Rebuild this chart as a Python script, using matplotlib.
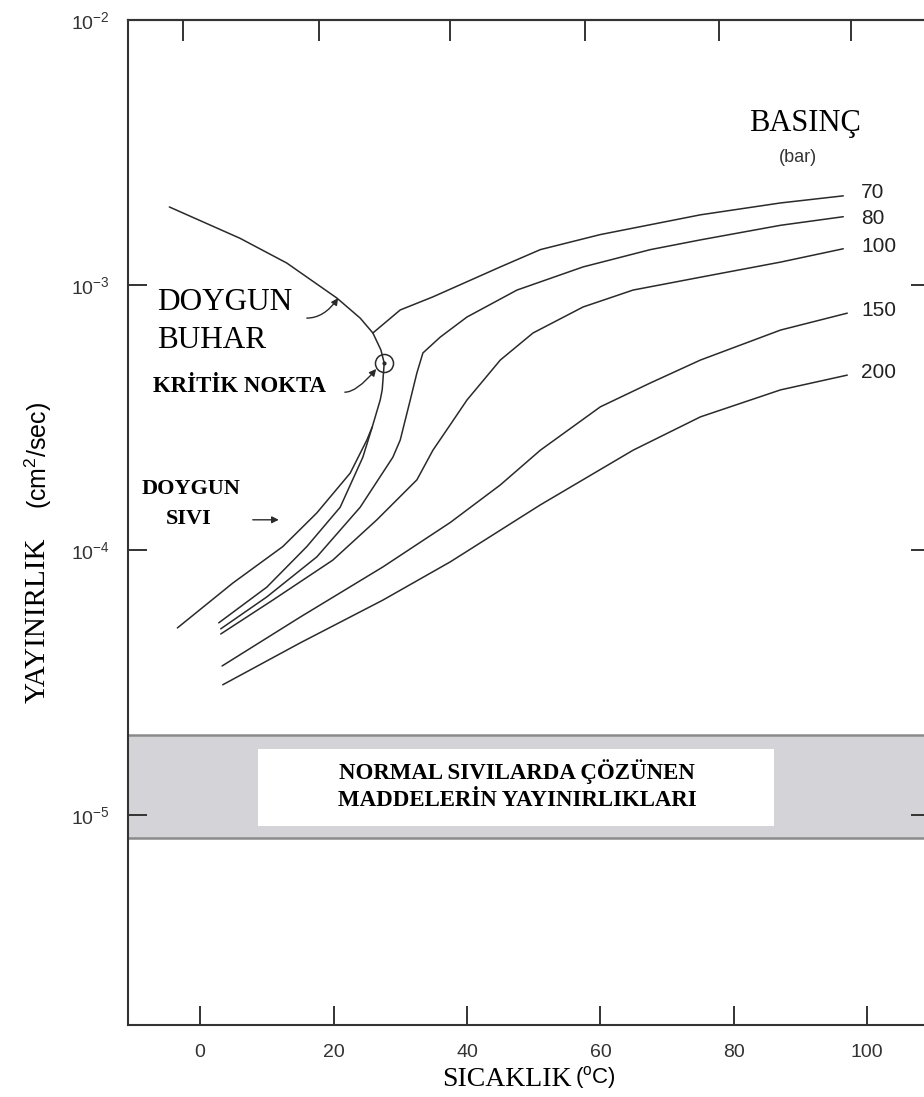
import numpy as np
import matplotlib
matplotlib.use("Agg")
import matplotlib.pyplot as plt

# ---------------- data ----------------
sat_vapor_T = [-4.6, 6.0, 13.0, 20.5, 24.0, 25.9, 27.1, 27.6]
sat_vapor_D = [1.97e-3, 1.50e-3, 1.21e-3, 8.93e-4, 7.50e-4, 6.59e-4, 5.69e-4, 5.08e-4]

sat_liquid_T = [27.6, 27.3, 27.0, 25.8, 25.0, 22.5, 17.5, 12.4, 4.9, -3.4]
sat_liquid_D = [5.08e-4, 4.02e-4, 3.68e-4, 2.91e-4, 2.60e-4, 1.95e-4, 1.38e-4, 1.03e-4, 7.50e-5, 5.08e-5]

p70_liq_T = [2.8, 10.0, 16.0, 21.0, 24.4, 25.8]
p70_liq_D = [5.31e-5, 7.24e-5, 1.03e-4, 1.45e-4, 2.24e-4, 2.91e-4]
p70_vap_T = [25.9, 30.0, 34.9, 45.0, 51.0, 60.0, 75.0, 87.0, 96.4]
p70_vap_D = [6.59e-4, 8.05e-4, 9.02e-4, 1.17e-3, 1.36e-3, 1.55e-3, 1.84e-3, 2.04e-3, 2.17e-3]

p80_T = [3.1, 10.0, 17.5, 24.0, 28.9, 30.0, 31.5, 32.5, 33.4, 36.0, 40.0, 47.5, 57.4, 67.5, 75.0, 87.0, 96.4]
p80_D = [5.04e-5, 6.65e-5, 9.42e-5, 1.45e-4, 2.24e-4, 2.60e-4, 3.68e-4, 4.66e-4, 5.54e-4, 6.36e-4,
         7.57e-4, 9.57e-4, 1.17e-3, 1.36e-3, 1.48e-3, 1.68e-3, 1.81e-3]

p100_T = [3.1, 10.9, 19.9, 26.5, 32.5, 34.9, 37.5, 40.0, 45.0, 49.9, 57.4, 64.9, 75.0, 87.0, 96.4]
p100_D = [4.82e-5, 6.47e-5, 9.16e-5, 1.30e-4, 1.84e-4, 2.38e-4, 2.97e-4, 3.68e-4, 5.21e-4, 6.59e-4,
          8.26e-4, 9.57e-4, 1.07e-3, 1.22e-3, 1.37e-3]

p150_T = [3.3, 15.0, 27.4, 37.5, 45.0, 51.0, 60.0, 67.5, 75.0, 87.0, 97.0]
p150_D = [3.65e-5, 5.58e-5, 8.63e-5, 1.27e-4, 1.76e-4, 2.38e-4, 3.47e-4, 4.27e-4, 5.21e-4, 6.76e-4, 7.83e-4]

p200_T = [3.4, 15.0, 27.4, 37.5, 51.0, 64.9, 75.0, 87.0, 97.0]
p200_D = [3.10e-5, 4.46e-5, 6.47e-5, 9.02e-5, 1.48e-4, 2.38e-4, 3.18e-4, 4.02e-4, 4.57e-4]

critical_T = [27.6]
critical_D = [5.08e-4]

band_D = [8.2e-6, 2.0e-5]          # normal liquids band
box_T = [8.7, 86.0]                # white label box
box_D = [9.1e-6, 1.78e-5]

pressure_labels = ["70", "80", "100", "150", "200"]
x_ticks = [0, 20, 40, 60, 80, 100]
x_ticks_top = [-2.5, 17.8, 37.4, 57.7, 77.8, 97.6]
y_ticks = [1e-2, 1e-3, 1e-4, 1e-5]
y_tick_labels = [r"$\mathregular{10^{-2}}$", r"$\mathregular{10^{-3}}$",
                 r"$\mathregular{10^{-4}}$", r"$\mathregular{10^{-5}}$"]

# ---------------- figure ----------------
W, H = 924, 1097
fig = plt.figure(figsize=(W / 100, H / 100), dpi=100)
L, R, T, B = 128, 930, 20, 1025
ax = fig.add_axes([L / W, 1 - B / H, (R - L) / W, (B - T) / H])
ax.set_yscale("log")
ax.set_xlim(-10.8, 109.4)
ax.set_ylim(10 ** -5.7925, 1e-2)

SERIF = ["Liberation Serif", "DejaVu Serif"]
SANS = ["Liberation Sans", "DejaVu Sans"]
LC = "#2a2a2a"
LW = 1.1

def px(x, y):
    return x / W, 1 - y / H

# band
ax.axhspan(band_D[0], band_D[1], facecolor="#d4d4d8", edgecolor="none", zorder=0)
ax.axhline(band_D[0], color="#8a8a8a", lw=1.8, zorder=1)
ax.axhline(band_D[1], color="#8a8a8a", lw=1.8, zorder=1)
ax.fill_between(box_T, box_D[0], box_D[1], facecolor="white", edgecolor="none", zorder=1)

# curves
for xs, ys in [(sat_vapor_T, sat_vapor_D), (sat_liquid_T, sat_liquid_D),
               (p70_liq_T, p70_liq_D), (p70_vap_T, p70_vap_D),
               (p80_T, p80_D), (p100_T, p100_D), (p150_T, p150_D), (p200_T, p200_D)]:
    ax.plot(xs, ys, color=LC, lw=LW, zorder=3, solid_capstyle="round", solid_joinstyle="round")

ax.plot(critical_T, critical_D, "o", ms=13, mfc="none", mec=LC, mew=1.1, zorder=4)
ax.plot(critical_T, critical_D, "o", ms=2, color=LC, zorder=4)

# ticks
ax.set_xticks(x_ticks)
ax.set_xticklabels([str(v) for v in x_ticks], fontfamily=SANS, fontsize=14, color="#333333")
ax.set_yticks(y_ticks)
ax.set_yticklabels(y_tick_labels, fontfamily=SANS, fontsize=14, color="#333333")
ax.minorticks_off()
ax.yaxis.set_minor_locator(matplotlib.ticker.NullLocator())
ax.tick_params(axis="both", direction="in", length=14, width=1.4, color="#333333")
ax.tick_params(axis="x", pad=14)
ax.tick_params(axis="y", pad=13, right=True, labelright=False)
sec = ax.secondary_xaxis("top")
sec.set_xticks(x_ticks_top)
sec.set_xticklabels([])
sec.tick_params(direction="in", length=15, width=1.4, color="#333333")
for s in ax.spines.values():
    s.set_linewidth(1.5)
    s.set_color("#333333")
sec.spines["top"].set_linewidth(1.5)
sec.spines["top"].set_color("#333333")

# axis labels
fig.text(*px(572, 1080), "SICAKLIK", fontfamily=SERIF, fontsize=20, ha="right", va="center")
fig.text(*px(575, 1078), r"($\mathregular{^{o}}$C)", fontfamily=SANS, fontsize=16, ha="left", va="center")
fig.text(*px(38, 620), "YAYINIRLIK", fontfamily=SERIF, fontsize=21, rotation=90, ha="center", va="center")
fig.text(*px(38, 455), r"(cm$\mathregular{^{2}}$/sec)", fontfamily=SANS, fontsize=18, rotation=90,
         ha="center", va="center")

# annotations
fig.text(*px(157, 303), "DOYGUN", fontfamily=SERIF, fontsize=22.5, ha="left", va="center")
fig.text(*px(157, 341), "BUHAR", fontfamily=SERIF, fontsize=22.5, ha="left", va="center")
ax.annotate("", xy=(20.7, 8.93e-4), xytext=(16.0, 7.50e-4),
            arrowprops=dict(arrowstyle="-|>", color=LC, lw=1.0, mutation_scale=10,
                            connectionstyle="angle3,angleA=0,angleB=55", shrinkA=0, shrinkB=0))
fig.text(*px(153, 387), "KRİTİK NOKTA", fontfamily=SERIF, fontsize=16.5, fontweight="bold",
         ha="left", va="center")
ax.annotate("", xy=(26.4, 4.82e-4), xytext=(21.7, 3.94e-4),
            arrowprops=dict(arrowstyle="-|>", color=LC, lw=1.0, mutation_scale=10,
                            connectionstyle="angle3,angleA=0,angleB=50", shrinkA=0, shrinkB=0))
fig.text(*px(191, 489), "DOYGUN", fontfamily=SERIF, fontsize=16, fontweight="bold",
         ha="center", va="center")
fig.text(*px(189, 519), "SIVI", fontfamily=SERIF, fontsize=16, fontweight="bold",
         ha="center", va="center")
ax.annotate("", xy=(11.8, 1.30e-4), xytext=(7.9, 1.30e-4),
            arrowprops=dict(arrowstyle="-|>", color=LC, lw=1.0, mutation_scale=10,
                            shrinkA=0, shrinkB=0))

fig.text(*px(805, 124), "BASINÇ", fontfamily=SERIF, fontsize=22, ha="center", va="center")
fig.text(*px(798, 158), "(bar)", fontfamily=SANS, fontsize=13, ha="center", va="center", color="#333333")
for lab, yy in zip(pressure_labels, [192, 218, 247, 311, 373]):
    fig.text(*px(861, yy), lab, fontfamily=SANS, fontsize=15, ha="left", va="center", color="#222222")

fig.text(*px(517, 772), "NORMAL SIVILARDA ÇÖZÜNEN", fontfamily=SERIF, fontsize=16.5, fontweight="bold",
         ha="center", va="center")
fig.text(*px(517, 800), "MADDELERİN YAYINIRLIKLARI", fontfamily=SERIF, fontsize=16.5, fontweight="bold",
         ha="center", va="center")

fig.savefig("out.png", dpi=100)
